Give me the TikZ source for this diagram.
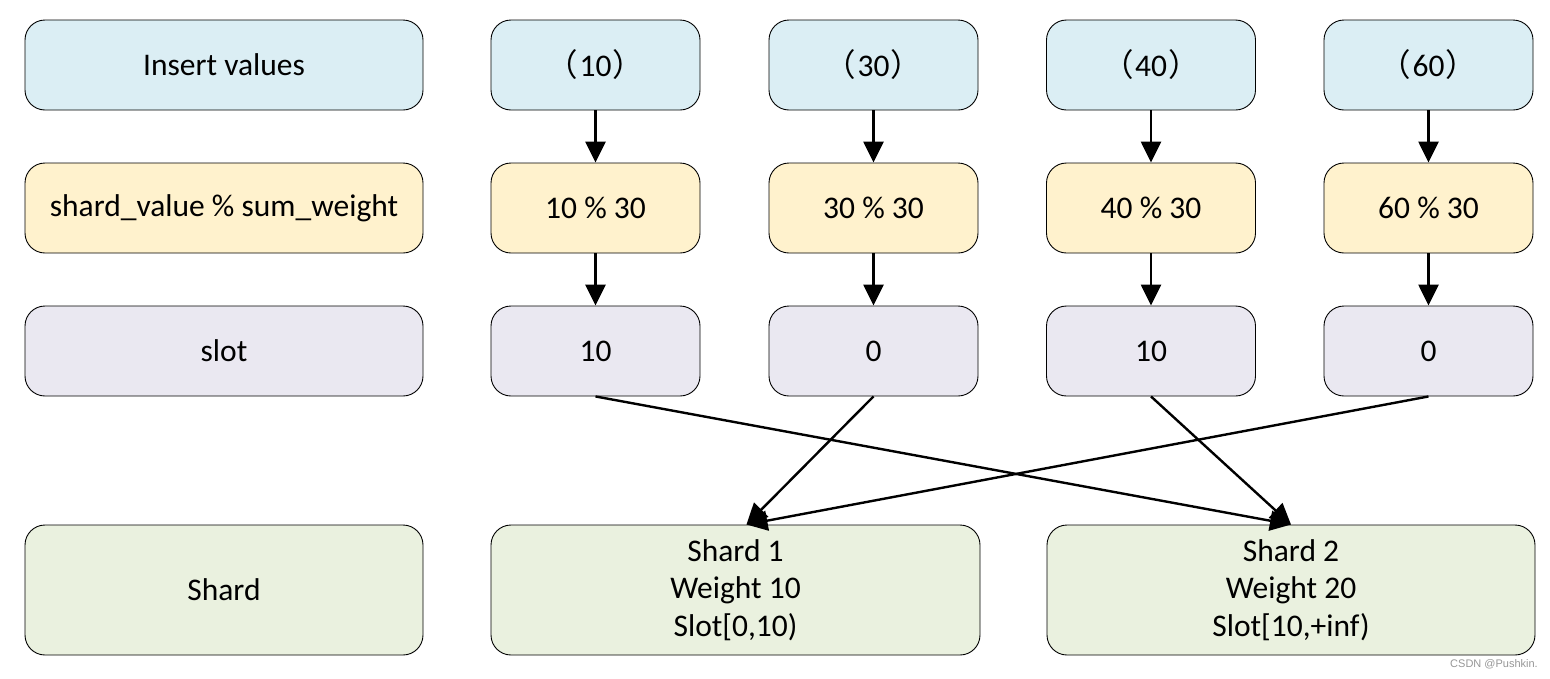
\documentclass[tikz,border=0pt]{standalone}
\usepackage{fontspec}
\setmainfont{Carlito}
\newfontfamily\cjk{Noto Sans CJK SC}
\usetikzlibrary{arrows.meta,calc}
\definecolor{cblue}{RGB}{219,238,244}
\definecolor{cyellow}{RGB}{255,242,205}
\definecolor{cgray}{RGB}{234,232,241}
\definecolor{cgreen}{RGB}{234,241,223}
\definecolor{wm}{RGB}{150,150,150}
\tikzset{
  box/.style={draw=black, line width=0.9pt, rounded corners=20pt, align=center,
    font=\fontsize{31.5}{37.5}\selectfont, inner sep=0pt},
  lbox/.style={box, minimum width=398pt, minimum height=90pt},
  vbox/.style={box, minimum width=209pt, minimum height=90pt},
  sbox/.style={box, minimum width=489pt, minimum height=130pt},
  varrow/.style={line width=2.6pt, -{Triangle[width=20pt,length=21pt]}},
  darrow/.style={line width=2.4pt, -{Triangle[width=20pt,length=21pt]}},
}
\newcommand{\fp}[1]{{\cjk （}\kern1.5pt#1\kern1.5pt{\cjk ）}}
\begin{document}
\begin{tikzpicture}[x=1pt,y=-1pt]
\useasboundingbox (0,0) rectangle (1550,678);
% left labels
\node[lbox, fill=cblue]   (l1) at (224,65)  {Insert values};
\node[lbox, fill=cyellow] (l2) at (224,208) {shard\_value \% sum\_weight};
\node[lbox, fill=cgray]   (l3) at (224,351) {slot};
\node[lbox, fill=cgreen, minimum height=130pt] (l4) at (224,590) {Shard};
% columns
\foreach \i/\x/\v/\s in {1/595.5/10/10, 2/873.5/30/0, 3/1151/40/10, 4/1428.5/60/0}{
  \node[vbox, fill=cblue]   (a\i) at (\x,65)  {\fp{\v}};
  \node[vbox, fill=cyellow] (b\i) at (\x,208) {\v\ \% 30};
  \node[vbox, fill=cgray]   (c\i) at (\x,351) {\s};
  \draw[varrow] (a\i) -- (b\i);
  \draw[varrow] (b\i) -- (c\i);
}
% shards
\node[sbox, fill=cgreen] (s1) at (735.5,590) {Shard 1\\Weight 10\\Slot[0,10)};
\node[sbox, fill=cgreen, minimum width=488pt] (s2) at (1291,590) {Shard 2\\Weight 20\\Slot[10,+inf)};
\coordinate (t1) at ($(s1.north)+(11,0)$);
\coordinate (t2) at (s2.north);
\draw[darrow] (c1.south) -- (t2);
\draw[darrow] (c2.south) -- (t1);
\draw[darrow] (c3.south) -- (t2);
\draw[darrow] (c4.south) -- (t1);
% watermark
\node[anchor=south east, inner sep=0pt, text=wm, font=\fontspec{Liberation Sans}\fontsize{11}{13}\selectfont] (wmk) at (1538,669) {CSDN @Pushkin.};
\end{tikzpicture}
\end{document}
